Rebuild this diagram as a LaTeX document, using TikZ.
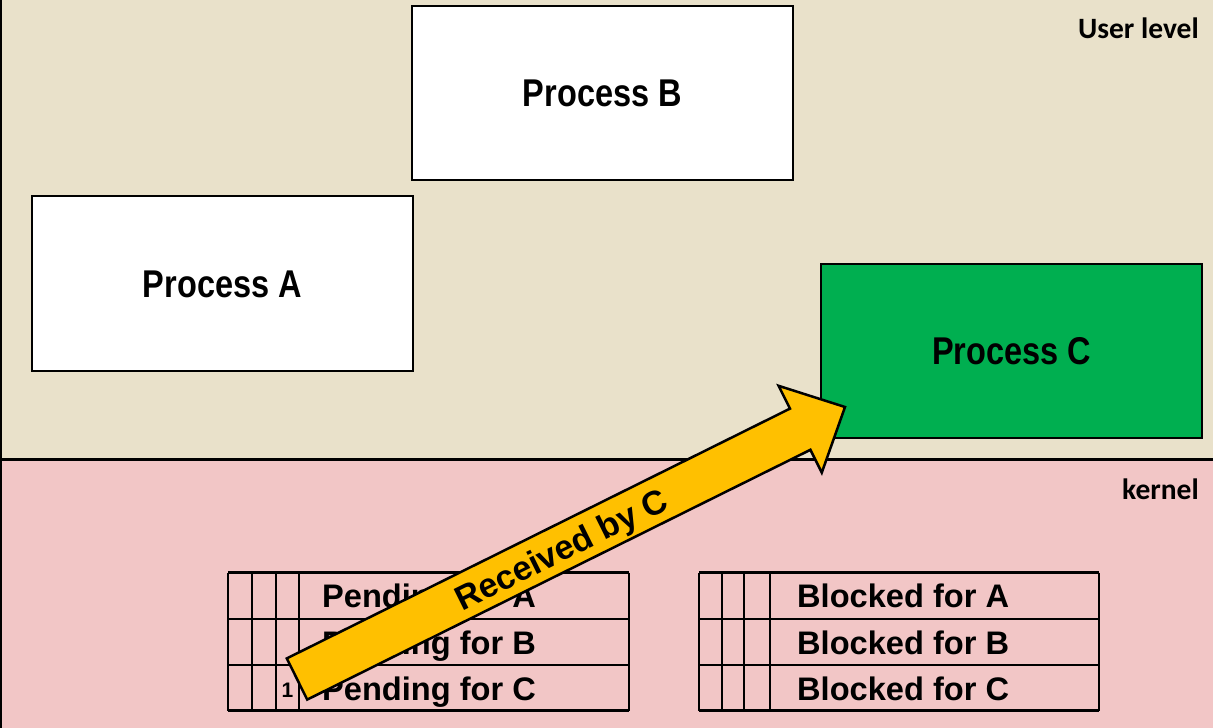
\documentclass[tikz,border=0pt]{standalone}
\usepackage{fontspec}
\setmainfont{Liberation Sans}
\newfontfamily\narrowfont[FakeStretch=0.84]{Liberation Sans}
\newfontfamily\calib{Carlito}
\newcommand\procfont{\narrowfont\bfseries\fontsize{38.7}{46}\selectfont}
\newcommand\tblfont{\bfseries\fontsize{32.6}{38}\selectfont}
\definecolor{userbg}{HTML}{E9E1CA}
\definecolor{kernbg}{HTML}{F2C6C6}
\definecolor{procC}{HTML}{00AF50}
\definecolor{arrowy}{HTML}{FFC000}
\tikzset{
  proc/.style={draw, line width=2, minimum width=381, minimum height=174.5, inner sep=0,
    font=\procfont, text height=27.7, text depth=0, fill=white},
  tbl/.style={line width=2.8},
  tbltext/.style={anchor=base west, inner sep=0, font=\tblfont},
  lvl/.style={anchor=base east, inner sep=0, font=\calib\bfseries\fontsize{29.5}{34}\selectfont}
}
\begin{document}
\begin{tikzpicture}[x=1pt,y=-1pt]
\useasboundingbox (0,0) rectangle (1213,728);
\fill[userbg] (0,0) rectangle (1213,459);
\fill[kernbg] (0,459) rectangle (1213,728);
\draw[line width=3] (0,459) -- (1213,459);
\draw[line width=2] (1,0) -- (1,728);

\node[proc] (B) at (602.5,93) {Process B};
\node[proc] (A) at (222.5,283.5) {Process A};
\node[proc, fill=procC] (C) at (1011.5,351) {Process C};

\node[lvl] (ul) at (1199,38) {User level};
\node[lvl] (kl) at (1199,499) {kernel};

% pending table
\foreach \y in {572.5,619,665,710.5} \draw[tbl] (228,\y) -- (629,\y);
\foreach \x in {228,252,276,299,629} \draw[tbl] (\x,572.5) -- (\x,710.5);
\node[tbltext] (pa) at (322,607.5) {Pending for A};
\node[tbltext] (pb) at (322,654) {Pending for B};
\node[tbltext] (pc) at (322,700) {Pending for C};
\node[inner sep=0, font=\bfseries\fontsize{21}{24}\selectfont] (one) at (287.5,690) {1};

% blocked table
\foreach \y in {572.5,619,665,710.5} \draw[tbl] (699,\y) -- (1099,\y);
\foreach \x in {699,722,744,770,1099} \draw[tbl] (\x,572.5) -- (\x,710.5);
\node[tbltext] (ba) at (797,607.5) {Blocked for A};
\node[tbltext] (bb) at (797,654) {Blocked for B};
\node[tbltext] (bc) at (797,700) {Blocked for C};

% block arrow
\draw[line width=2.5, fill=arrowy, line join=miter]
  (286.8,658.4) -- (790,408.6) -- (778.6,385.8) -- (845,407) -- (821.8,472.6)
  -- (810.4,449.8) -- (307.2,699.6) -- cycle;
\node[rotate=26.4, inner sep=0, font=\bfseries\fontsize{34}{38}\selectfont,
  text height=24.3, text depth=0] (rc) at (561,549) {Received by C};
\end{tikzpicture}
\end{document}
